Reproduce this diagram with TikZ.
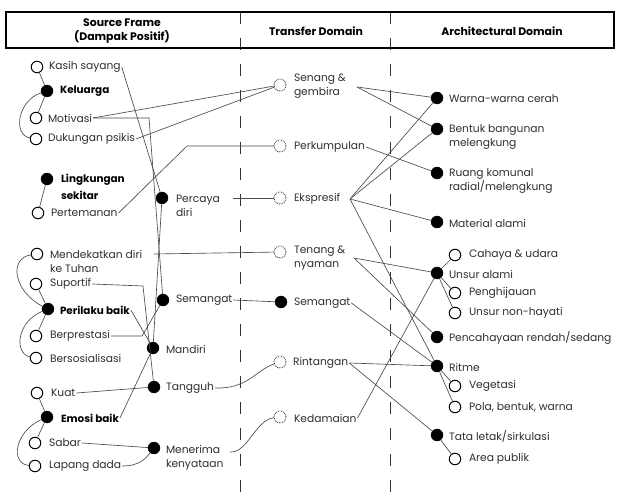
\documentclass[tikz,border=0pt]{standalone}
\usepackage{fontspec}
\setmainfont{Poppins}
\definecolor{txt}{HTML}{2E2E2E}
\definecolor{lin}{HTML}{4A4A4A}
\begin{document}
\begin{tikzpicture}[x=1pt,y=-1pt,
  every node/.style={inner sep=0pt,outer sep=0pt},
  lbl/.style={anchor=west,font=\fontsize{10.7}{14}\selectfont,text=txt,align=left,inner sep=1pt},
  blbl/.style={anchor=west,font=\fontsize{10.4}{17}\selectfont\bfseries,text=black,align=left,inner sep=1pt},
  hdr/.style={font=\fontsize{10.9}{13.5}\selectfont\bfseries,text=black,align=center},
  opn/.style={circle,draw=black,line width=1pt,fill=white,minimum size=11.5pt},
  fil/.style={circle,draw=black,fill=black,minimum size=12pt},
  dsh/.style={circle,draw=black!85,densely dotted,line width=0.8pt,fill=white,minimum size=12pt},
  conn/.style={draw=lin,line width=0.65pt},
  divider/.style={draw=black!80,line width=0.9pt,dash pattern=on 12pt off 14pt},
]
\useasboundingbox (0,0) rectangle (620,502);
% dividers and header
\draw[divider] (240,12) -- (240,500);
\draw[divider] (390,12) -- (390,500);
\draw[line width=1.1pt] (6,12) rectangle (614,48);
\node[hdr] (h1) at (122,31) {Source Frame\\(Dampak Positif)};
\node[hdr] (h2) at (316,31) {Transfer Domain};
\node[hdr] (h3) at (502,31) {Architectural Domain};

% ---------- left column nodes ----------
\node[opn] (ks) at (37,67) {};   \node[lbl] (ksl) at (48,67) {Kasih sayang};
\node[fil] (kel) at (47,91) {};  \node[blbl] (kell) at (59,91) {Keluarga};
\node[opn] (mot) at (36,118) {}; \node[lbl] (motl) at (47,118) {Motivasi};
\node[opn] (duk) at (36,139) {}; \node[lbl] (dukl) at (47,139) {Dukungan psikis};
\node[fil] (lin) at (47,179) {}; \node[blbl] (linl) at (60,187) {Lingkungan\\sekitar};
\node[opn] (per) at (38,213) {}; \node[lbl] (perl) at (50,213) {Pertemanan};
\node[fil] (pd) at (162,198) {};  \node[lbl] (pdl) at (175,206) {Percaya\\diri};
\node[opn] (mdt) at (37,254) {}; \node[lbl] (mdtl) at (49,261) {Mendekatkan diri\\ke Tuhan};
\node[opn] (sup) at (36,284) {}; \node[lbl] (supl) at (49,284) {Suportif};
\node[fil] (pb) at (48,309) {};  \node[blbl] (pbl) at (59,310) {Perilaku baik};
\node[fil] (sem1) at (163,300) {}; \node[lbl] (sem1l) at (175,300) {Semangat};
\node[opn] (ber) at (36,336) {}; \node[lbl] (berl) at (49,336) {Berprestasi};
\node[opn] (bers) at (36,358) {}; \node[lbl] (bersl) at (49,358) {Bersosialisasi};
\node[fil] (man) at (153,348) {}; \node[lbl] (manl) at (165,349) {Mandiri};
\node[opn] (kua) at (37,393) {}; \node[lbl] (kual) at (50,393) {Kuat};
\node[fil] (tan) at (154,387) {}; \node[lbl] (tanl) at (165,388) {Tangguh};
\node[fil] (emo) at (47,417) {}; \node[blbl] (emol) at (60,418) {Emosi baik};
\node[opn] (sab) at (35,443) {}; \node[lbl] (sabl) at (48,443) {Sabar};
\node[opn] (lap) at (35,466) {}; \node[lbl] (lapl) at (48,466) {Lapang dada};
\node[fil] (men) at (154,448) {}; \node[lbl] (menl) at (165,458) {Menerima\\kenyataan};

% ---------- middle column ----------
\node[dsh] (seg) at (280,85) {};  \node[lbl] (segl) at (293,86) {Senang \&\\gembira};
\node[dsh] (pk) at (280,146) {};  \node[lbl] (pkl) at (293,147) {Perkumpulan};
\node[dsh] (eks) at (280,198) {}; \node[lbl] (eksl) at (293,199) {Ekspresif};
\node[dsh] (ten) at (280,252) {}; \node[lbl] (tenl) at (293,258) {Tenang \&\\nyaman};
\node[fil] (sem2) at (281,302) {}; \node[lbl] (sem2l) at (293,303) {Semangat};
\node[dsh] (rin) at (280,362) {}; \node[lbl] (rinl) at (292,363) {Rintangan};
\node[dsh] (ked) at (280,417) {}; \node[lbl] (kedl) at (293,418) {Kedamaian};

% ---------- right column ----------
\node[fil] (war) at (437,98) {};  \node[lbl] (warl) at (448,99) {Warna-warna cerah};
\node[fil] (ben) at (437,129) {}; \node[lbl] (benl) at (448,137) {Bentuk bangunan\\melengkung};
\node[fil] (rua) at (437,173) {}; \node[lbl] (rual) at (448,181) {Ruang komunal\\radial/melengkung};
\node[fil] (mat) at (437,222) {}; \node[lbl] (matl) at (448,223) {Material alami};
\node[opn] (cah) at (455,255) {}; \node[lbl] (cahl) at (468,255) {Cahaya \& udara};
\node[fil] (una) at (437,273) {}; \node[lbl] (unal) at (448,274) {Unsur alami};
\node[opn] (pen) at (455,293) {}; \node[lbl] (penl) at (468,293) {Penghijauan};
\node[opn] (unh) at (455,313) {}; \node[lbl] (unhl) at (468,313) {Unsur non-hayati};
\node[fil] (pcr) at (437,337) {}; \node[lbl] (pcrl) at (448,338) {Pencahayaan rendah/sedang};
\node[fil] (rit) at (437,366) {}; \node[lbl] (ritl) at (448,367) {Ritme};
\node[opn] (veg) at (455,386) {}; \node[lbl] (vegl) at (468,386) {Vegetasi};
\node[opn] (pol) at (455,407) {}; \node[lbl] (poll) at (468,407) {Pola, bentuk, warna};
\node[fil] (tat) at (437,435) {}; \node[lbl] (tatl) at (448,436) {Tata letak/sirkulasi};
\node[opn] (are) at (455,459) {}; \node[lbl] (arel) at (468,459) {Area publik};

% helper coordinates
\coordinate (e1) at (149,118);
\coordinate (e2) at (187,146);
\coordinate (e3) at (143,286);
\coordinate (e4) at (142,336);
\coordinate (pde) at (233,198);
\coordinate (mdte) at (154,254);
\coordinate (mene) at (230,452);
\coordinate (sege) at (357,87);
\coordinate (tene) at (354,258);
\coordinate (ekse) at (350,199);

% left trees
\draw[conn] (kel) -- (ks);
\draw[conn] (kel) -- (mot);
\draw[conn] (kel) .. controls (18,100) and (12,135) .. (duk);
\draw[conn] (lin) -- (per);
\draw[conn] (pb) .. controls (14,292) and (8,258) .. (mdt);
\draw[conn] (pb) -- (sup);
\draw[conn] (pb) -- (ber);
\draw[conn] (pb) .. controls (16,322) and (14,354) .. (bers);
\draw[conn] (emo) -- (kua);
\draw[conn] (emo) -- (sab);
\draw[conn] (emo) .. controls (14,432) and (10,464) .. (lap);
% left attributes
\draw[conn] (ksl.east) -- (pd);
\draw[conn] (motl.east) -- (e1) -- (sem1);
\draw[conn] (pd) -- (man);
\draw[conn] (supl.east) -- (e3) -- (tan);
\draw[conn] (berl.east) -- (e4) -- (sem1);
\draw[conn] (pbl.east) -- (man);
\draw[conn] (emol.east) -- (man);
\draw[conn] (kual.east) -- (tan);
\draw[conn] (sabl.east) -- (men);
\draw[conn] (lapl.east) .. controls (140,466) and (146,458) .. (men);
% left to middle
\draw[conn] (motl.east) -- (seg);
\draw[conn] (dukl.east) -- (seg);
\draw[conn] (perl.east) -- (e2) -- (pk);
\draw[conn] (pde) -- (eks);
\draw[conn] (mdte) -- (ten);
\draw[conn] (sem1l.east) -- (sem2);
\draw[conn] (tanl.east) .. controls (248,389) and (256,370) .. (rin);
\draw[conn] (mene) .. controls (248,453) and (255,420) .. (ked);
% middle to right
\draw[conn] (sege) -- (war);
\draw[conn] (sege) -- (ben);
\draw[conn] (pkl.east) -- (rua);
\draw[conn] (ekse) -- (war);
\draw[conn] (ekse) -- (ben);
\draw[conn] (ekse) -- (mat);
\draw[conn] (ekse) -- (rit);
\draw[conn] (tene) -- (una);
\draw[conn] (tene) -- (pcr);
\draw[conn] (sem2l.east) -- (rit);
\draw[conn] (rinl.east) -- (rit);
\draw[conn] (rinl.east) -- (tat);
\draw[conn] (kedl.east) -- (una);
% right trees
\draw[conn] (una) -- (cah);
\draw[conn] (una) -- (pen);
\draw[conn] (una) -- (unh);
\draw[conn] (rit) -- (veg);
\draw[conn] (rit) -- (pol);
\draw[conn] (tat) -- (are);
\end{tikzpicture}
\end{document}
